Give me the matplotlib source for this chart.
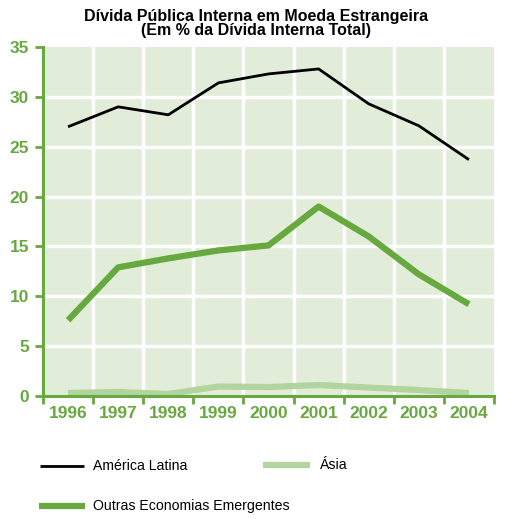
import matplotlib
matplotlib.use("Agg")
import matplotlib.pyplot as plt
from matplotlib.lines import Line2D

years = ["1996", "1997", "1998", "1999", "2000", "2001", "2002", "2003", "2004"]
america_latina = [27.0, 29.0, 28.2, 31.4, 32.3, 32.8, 29.3, 27.1, 23.7]
asia = [0.3, 0.4, 0.2, 0.95, 0.9, 1.1, 0.85, 0.6, 0.3]
outras = [7.6, 12.9, 13.8, 14.6, 15.1, 19.0, 16.0, 12.2, 9.2]
yticks = [0, 5, 10, 15, 20, 25, 30, 35]

GREEN = "#67a83f"
LIGHT = "#b2d49f"
BG = "#e1edd9"

plt.rcParams['font.family'] = ['Liberation Sans', 'DejaVu Sans']

fig = plt.figure(figsize=(5.12, 5.23), dpi=100)
ax = fig.add_axes([43/512, 1-396/523, (494-43)/512, (396-47)/523])
ax.set_facecolor(BG)

x = list(range(len(years)))
ax.plot(x, america_latina, color="black", lw=2, solid_capstyle="butt", zorder=5)
ax.plot(x, asia, color=LIGHT, lw=4.5, solid_capstyle="butt", zorder=4)
ax.plot(x, outras, color=GREEN, lw=4.5, solid_capstyle="butt", zorder=4)

ax.set_xlim(-0.5, len(years) - 0.5)
ax.set_ylim(0, 35)

# grid
for yv in yticks[1:-1]:
    ax.axhline(yv, color="white", lw=2.5, zorder=1)
for i in range(1, len(years)):
    ax.axvline(i - 0.5, color="white", lw=2.5, zorder=1)

ax.set_yticks(yticks)
ax.set_yticklabels([str(v) for v in yticks], color=GREEN, fontweight="bold", fontsize=12.5)
ax.set_xticks([i - 0.5 for i in range(len(years) + 1)])
ax.set_xticklabels([])
ax.set_xticks(x, minor=True)
ax.set_xticklabels(years, minor=True, color=GREEN, fontweight="bold", fontsize=12.5)
ax.tick_params(axis="x", which="minor", length=0, pad=7)
ax.tick_params(axis="x", which="major", length=6, width=2, color=GREEN, direction="out")
ax.tick_params(axis="y", length=6, width=2, color=GREEN, direction="out", pad=4)

for s in ["top", "right"]:
    ax.spines[s].set_visible(False)
for s in ["left", "bottom"]:
    ax.spines[s].set_color(GREEN)
    ax.spines[s].set_linewidth(2.2)
    ax.spines[s].set_zorder(6)

fig.text(0.5, 1-16/523, "Dívida Pública Interna em Moeda Estrangeira", ha="center", va="center",
         fontsize=11.5, fontweight="bold")
fig.text(0.5, 1-31/523, "(Em % da Dívida Interna Total)", ha="center", va="center",
         fontsize=11.5, fontweight="bold")

# legend
def legend_item(x0, x1, y, color, lw, label, tx):
    fig.add_artist(Line2D([x0/512, x1/512], [1-y/523, 1-y/523], color=color, lw=lw,
                          solid_capstyle="butt", transform=fig.transFigure))
    fig.text(tx/512, 1-y/523, label, ha="left", va="center", fontsize=10.2)

legend_item(40, 84, 466, "black", 2, "América Latina", 93)
legend_item(263, 310, 465, LIGHT, 4.5, "Ásia", 320)
legend_item(39, 85, 506, GREEN, 4.5, "Outras Economias Emergentes", 93)

fig.savefig("out.png", dpi=100)
